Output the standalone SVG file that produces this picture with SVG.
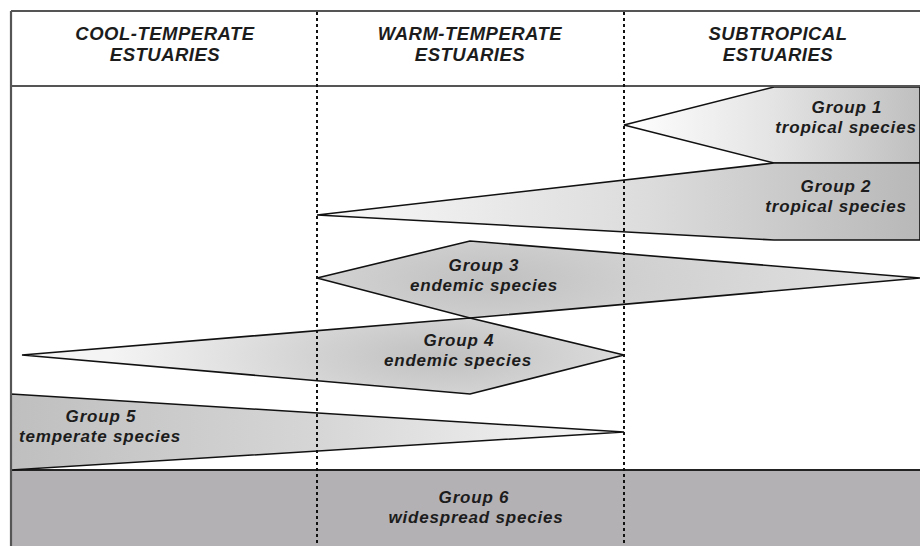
<svg xmlns="http://www.w3.org/2000/svg" width="920" height="546" viewBox="0 0 920 546">
<defs>
<style>
.lbl{font-family:"Liberation Sans",Arial,sans-serif;font-weight:bold;font-style:italic;font-size:17px;letter-spacing:0.8px;fill:#1c1c1c;text-anchor:middle}
.hdr{font-family:"Liberation Sans",Arial,sans-serif;font-weight:bold;font-style:italic;font-size:18.5px;letter-spacing:0.5px;fill:#1c1c1c;text-anchor:middle}
.shape{stroke:#111;stroke-width:1.6;stroke-linejoin:miter}
.frame{stroke:#555;stroke-width:2.2;fill:none}
.grid{stroke:#111;stroke-width:2;stroke-dasharray:3 3;fill:none}
</style>
<linearGradient id="g1" x1="624" y1="0" x2="920" y2="0" gradientUnits="userSpaceOnUse">
<stop offset="0" stop-color="#ffffff"/><stop offset="0.5" stop-color="#e4e4e4"/><stop offset="1" stop-color="#bfbfbf"/>
</linearGradient>
<linearGradient id="g2" x1="317" y1="0" x2="920" y2="0" gradientUnits="userSpaceOnUse">
<stop offset="0" stop-color="#f8f8f8"/><stop offset="0.55" stop-color="#dcdcdc"/><stop offset="1" stop-color="#b8b8b8"/>
</linearGradient>
<radialGradient id="g3" cx="490" cy="280" r="420" gradientUnits="userSpaceOnUse" gradientTransform="translate(490 280) scale(1 0.3) translate(-490 -280)">
<stop offset="0" stop-color="#c0c0c0"/><stop offset="0.35" stop-color="#d0d0d0"/><stop offset="1" stop-color="#e2e2e2"/>
</radialGradient>
<radialGradient id="g4" cx="440" cy="356" r="330" gradientUnits="userSpaceOnUse" gradientTransform="translate(440 356) scale(1 0.3) translate(-440 -356)">
<stop offset="0" stop-color="#c0c0c0"/><stop offset="0.35" stop-color="#d1d1d1"/><stop offset="1" stop-color="#f4f4f4"/>
</radialGradient>
<linearGradient id="g5" x1="11" y1="0" x2="624" y2="0" gradientUnits="userSpaceOnUse">
<stop offset="0" stop-color="#bfbfbf"/><stop offset="0.5" stop-color="#d6d6d6"/><stop offset="1" stop-color="#f7f7f7"/>
</linearGradient>
</defs>
<rect x="0" y="0" width="920" height="546" fill="#ffffff"/>

<g id="group6">
<rect x="11" y="470" width="909" height="76" fill="#b4b1b4"/>
<line x1="11" y1="470" x2="920" y2="470" stroke="#222" stroke-width="2"/>
<text class="lbl" x="474" y="503">Group 6</text>
<text class="lbl" x="476" y="523">widespread species</text>
</g>

<g id="group1">
<polygon class="shape" points="624,125 774,87 920,87 920,163 774,163" fill="url(#g1)"/>
<text class="lbl" x="847" y="113">Group 1</text>
<text class="lbl" x="846" y="133">tropical species</text>
</g>

<g id="group2">
<polygon class="shape" points="317,215 774,163 920,163 920,240 774,240" fill="url(#g2)"/>
<text class="lbl" x="836" y="192">Group 2</text>
<text class="lbl" x="836" y="212">tropical species</text>
</g>

<g id="group3">
<polygon class="shape" points="317,278 470,241 920,278 470,318" fill="url(#g3)"/>
<text class="lbl" x="484" y="271">Group 3</text>
<text class="lbl" x="484" y="291">endemic species</text>
</g>

<g id="group4">
<polygon class="shape" points="22,355 470,318 624,355 470,394" fill="url(#g4)"/>
<text class="lbl" x="459" y="346">Group 4</text>
<text class="lbl" x="458" y="366">endemic species</text>
</g>

<g id="group5">
<polygon class="shape" points="11,394 624,432 11,470" fill="url(#g5)"/>
<text class="lbl" x="101" y="422">Group 5</text>
<text class="lbl" x="100" y="442">temperate species</text>
</g>

<g id="frame">
<line class="frame" x1="11" y1="11" x2="920" y2="11"/>
<line class="frame" x1="11" y1="11" x2="11" y2="546"/>
<line class="frame" x1="11" y1="86" x2="920" y2="86"/>
</g>

<g id="header">
<text class="hdr" x="165" y="40">COOL-TEMPERATE</text>
<text class="hdr" x="165" y="61">ESTUARIES</text>
<text class="hdr" x="470" y="40">WARM-TEMPERATE</text>
<text class="hdr" x="470" y="61">ESTUARIES</text>
<text class="hdr" x="778" y="40">SUBTROPICAL</text>
<text class="hdr" x="778" y="61">ESTUARIES</text>
</g>

<g id="connectors">
<line class="grid" x1="317" y1="12" x2="317" y2="546"/>
<line class="grid" x1="624" y1="12" x2="624" y2="546"/>
</g>
</svg>
